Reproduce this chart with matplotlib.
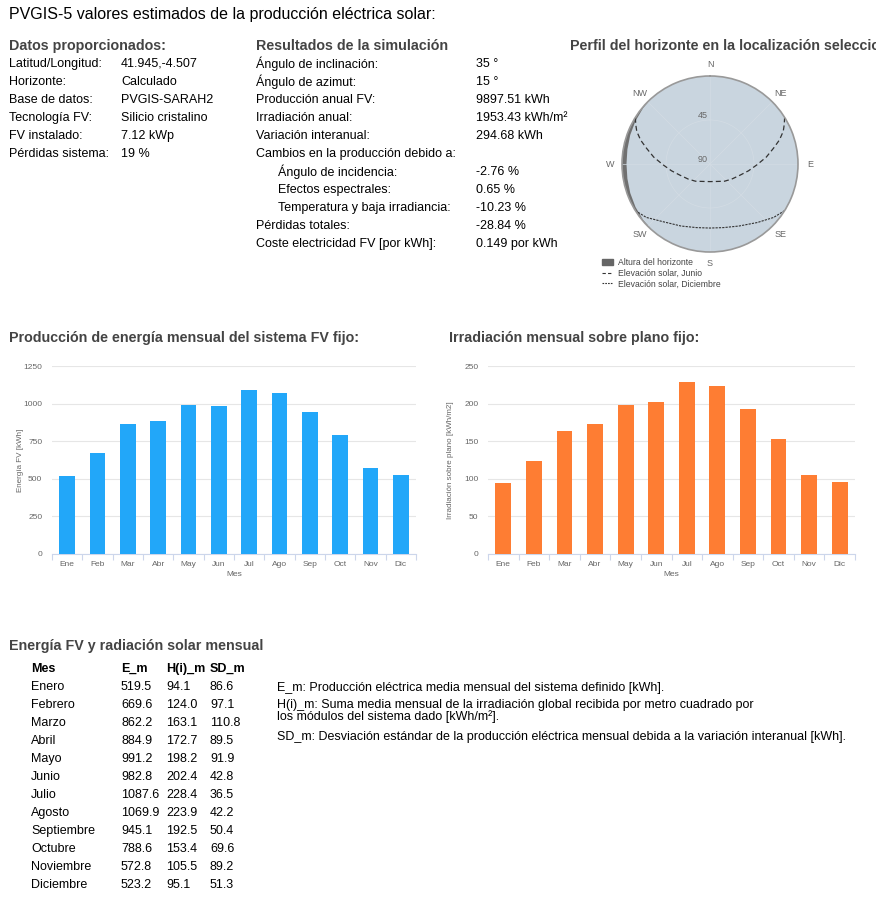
import numpy as np
import matplotlib
matplotlib.use("Agg")
import matplotlib.pyplot as plt
from matplotlib.lines import Line2D
from matplotlib.patches import Patch

plt.rcParams['font.family'] = ['Liberation Sans', 'DejaVu Sans']

W, H = 876, 899

# datos de entrada y resultados
datos_labels = ["Latitud/Longitud:", "Horizonte:", "Base de datos:", "Tecnología FV:",
                "FV instalado:", "Pérdidas sistema:"]
datos_values = ["41.945,-4.507", "Calculado", "PVGIS-SARAH2", "Silicio cristalino",
                "7.12 kWp", "19 %"]

result_labels = ["Ángulo de inclinación:", "Ángulo de azimut:", "Producción anual FV:",
                 "Irradiación anual:", "Variación interanual:",
                 "Cambios en la producción debido a:", "Ángulo de incidencia:",
                 "Efectos espectrales:", "Temperatura y baja irradiancia:",
                 "Pérdidas totales:", "Coste electricidad FV [por kWh]:"]
result_values = ["35 °", "15 °", "9897.51 kWh", "1953.43 kWh/m²", "294.68 kWh", "",
                 "-2.76 %", "0.65 %", "-10.23 %", "-28.84 %", "0.149 por kWh"]
result_indent = [0, 0, 0, 0, 0, 0, 1, 1, 1, 0, 0]

# datos mensuales
meses = ["Ene", "Feb", "Mar", "Abr", "May", "Jun", "Jul", "Ago", "Sep", "Oct", "Nov", "Dic"]
meses_largo = ["Enero", "Febrero", "Marzo", "Abril", "Mayo", "Junio", "Julio", "Agosto",
               "Septiembre", "Octubre", "Noviembre", "Diciembre"]
E_m = [519.5, 669.6, 862.2, 884.9, 991.2, 982.8, 1087.6, 1069.9, 945.1, 788.6, 572.8, 523.2]
H_m = [94.1, 124.0, 163.1, 172.7, 198.2, 202.4, 228.4, 223.9, 192.5, 153.4, 105.5, 95.1]
SD_m = [86.6, 97.1, 110.8, 89.5, 91.9, 42.8, 36.5, 42.2, 50.4, 69.6, 89.2, 51.3]

# perfil del horizonte (azimut, altura) y trayectorias solares (azimut, elevacion)
horiz_az = [0, 30, 60, 90, 120, 150, 180, 210, 220, 230, 240, 250, 260, 270, 280, 290, 300, 310, 318, 330, 360]
horiz_h = [0, 0, 0, 0, 0, 0, 0, 0, 0, 0.8, 2.0, 3.2, 4.2, 4.6, 4.2, 3.2, 2.0, 0.8, 0, 0, 0]

junio_az = [58, 62, 66, 71, 76, 83, 91, 100, 110, 125, 140, 160, 180,
            200, 220, 235, 250, 260, 269, 277, 284, 289, 294, 298, 302]
junio_el = [0, 4, 8, 15, 23, 32, 42, 50, 57, 63, 67, 71, 72,
            71, 67, 63, 57, 50, 42, 32, 23, 15, 8, 4, 0]
dic_az = [122, 130, 141, 155, 168, 180, 192, 205, 219, 230, 238]
dic_el = [0, 5, 13, 20, 23.5, 24.5, 23.5, 20, 14, 5, 0]

rumbos = ["N", "NE", "E", "SE", "S", "SW", "W", "NW"]


def fx(x):
    return x / W


def fy(y):
    return 1 - y / H


def txt(x, y, s, **kw):
    kw.setdefault('fontsize', 9)
    kw.setdefault('va', 'center')
    fig.text(fx(x), fy(y), s, **kw)


fig = plt.figure(figsize=(W / 100, H / 100), dpi=100)
fig.patch.set_facecolor('white')

head = dict(fontsize=10.3, fontweight='bold', color='#444444')

txt(9, 14, "PVGIS-5 valores estimados de la producción eléctrica solar:", fontsize=11.5)

txt(9, 46, "Datos proporcionados:", **head)
for i in range(len(datos_labels)):
    txt(9, 64 + 18 * i, datos_labels[i])
    txt(121, 64 + 18 * i, datos_values[i])

txt(256, 46, "Resultados de la simulación", **head)
for i in range(len(result_labels)):
    txt(256 + 22 * result_indent[i], 64 + 18 * i, result_labels[i])
    txt(476, 64 + 18 * i, result_values[i])

# el titulo queda cortado por el borde derecho, como en el informe original
txt(570, 46, "Perfil del horizonte en la localización seleccionada:", **head)

# ---- perfil del horizonte (polar) ----
cx, cy, rad = 710, 164, 88
axp = fig.add_axes([fx(cx - rad), fy(cy + rad), 2 * rad / W, 2 * rad / H], projection='polar')
axp.set_theta_zero_location('N')
axp.set_theta_direction(-1)
axp.set_facecolor('#c9d5df')
axp.set_ylim(0, 90)

th = np.radians(horiz_az)
rh = 90 - np.array(horiz_h)
axp.fill(np.concatenate([th, th[::-1]]), np.concatenate([rh, np.full(len(th), 90.0)]),
         color='#707070', lw=0)
axp.plot(np.radians(junio_az), 90 - np.array(junio_el), color='#333333', lw=0.9,
         dashes=(4, 2.5))
axp.plot(np.radians(dic_az), 90 - np.array(dic_el), color='#333333', lw=0.8,
         dashes=(2, 1))

axp.set_thetagrids(np.arange(0, 360, 45), rumbos, fontsize=6.5, color='#666666')
axp.tick_params(axis='x', pad=-2)
axp.set_rgrids([45], labels=[''])
axp.grid(color='#d3dce4', lw=0.5)
axp.spines['polar'].set_color('#999999')
axp.spines['polar'].set_linewidth(1.2)
txt(703, 116, "45", fontsize=6.5, color='#666666', ha='center')
txt(703, 160, "90", fontsize=6.5, color='#666666', ha='center')

leg_handles = [Patch(color='#666666'),
               Line2D([], [], color='#333333', lw=0.8, dashes=(3, 2)),
               Line2D([], [], color='#333333', lw=0.8, dashes=(1.5, 1))]
fig.legend(leg_handles, ["Altura del horizonte", "Elevación solar, Junio",
                         "Elevación solar, Diciembre"],
           loc='upper left', bbox_to_anchor=(fx(602), fy(258)), frameon=False,
           fontsize=6.2, handlelength=1.3, handleheight=0.8, labelspacing=0.2,
           handletextpad=0.5, borderpad=0, borderaxespad=0, labelcolor='#444444')

# ---- graficos de barras ----
txt(9, 338, "Producción de energía mensual del sistema FV fijo:", **head)
txt(449, 338, "Irradiación mensual sobre plano fijo:", **head)


def bar_chart(left, right, values, color, ymax, ystep, ylabel, ylab_x):
    ax = fig.add_axes([fx(left), fy(554), (right - left) / W, (554 - 366) / H])
    x = np.arange(len(meses))
    ax.bar(x, values, width=0.52, color=color, zorder=3)
    ax.set_xlim(-0.5, len(meses) - 0.5)
    ax.set_ylim(0, ymax)
    ax.set_yticks(np.arange(0, ymax + 1, ystep))
    ax.set_xticks(x)
    ax.set_xticklabels(meses)
    ax.set_xticks(np.arange(-0.5, len(meses)), minor=True)
    ax.tick_params(axis='x', which='major', length=0, labelsize=6, labelcolor='#666666', pad=5)
    ax.tick_params(axis='x', which='minor', length=4, color='#ccd6eb', width=0.8)
    ax.tick_params(axis='y', length=0, labelsize=6, labelcolor='#666666', pad=7)
    ax.grid(axis='y', color='#e6e6e6', lw=0.8, zorder=0)
    for s in ['top', 'right', 'left']:
        ax.spines[s].set_visible(False)
    ax.spines['bottom'].set_color('#ccd6eb')
    ax.set_xlabel("Mes", fontsize=6, color='#666666', labelpad=2)
    fig.text(fx(ylab_x), fy(460), ylabel, rotation=90, fontsize=5.8, color='#666666',
             ha='center', va='center')
    return ax


bar_chart(52, 416, E_m, '#22a7f9', 1250, 250, "Energía FV [kWh]", 21)
bar_chart(488, 855, H_m, '#fe7d33', 250, 50, "Irradiación sobre plano [kWh/m2]", 451)

# ---- tabla mensual ----
txt(9, 646, "Energía FV y radiación solar mensual", **head)
txt(31, 669, "Mes", fontweight='bold')
txt(121, 669, "E_m", fontweight='bold')
txt(166, 669, "H(i)_m", fontweight='bold')
txt(210, 669, "SD_m", fontweight='bold')
for i in range(len(meses_largo)):
    yy = 687 + 18 * i
    txt(31, yy, meses_largo[i])
    txt(121, yy, f"{E_m[i]:.1f}")
    txt(166, yy, f"{H_m[i]:.1f}")
    txt(210, yy, f"{SD_m[i]:.1f}")

txt(277, 688, "E_m: Producción eléctrica media mensual del sistema definido [kWh].")
txt(277, 705, "H(i)_m: Suma media mensual de la irradiación global recibida por metro cuadrado por")
txt(277, 717, "los módulos del sistema dado [kWh/m²].")
txt(277, 737, "SD_m: Desviación estándar de la producción eléctrica mensual debida a la variación interanual [kWh].")

fig.savefig("out.png", dpi=100)
